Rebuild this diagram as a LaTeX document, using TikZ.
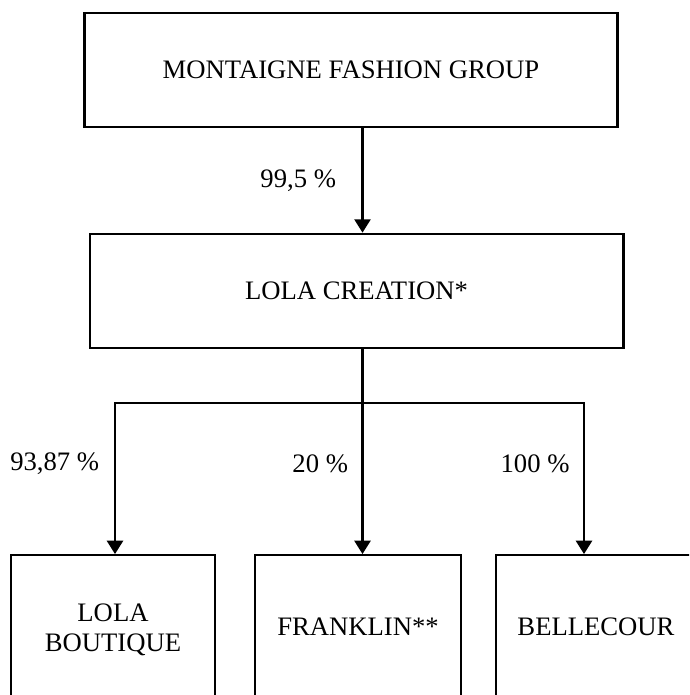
\documentclass[tikz,border=0pt]{standalone}
\usepackage{fontspec}
\setmainfont{Liberation Serif}
\usetikzlibrary{arrows.meta,positioning}

\begin{document}
\begin{tikzpicture}[
  x=0.75pt, y=-0.75pt,
  >={Triangle[length=10pt,width=12pt]},
  every node/.style={font=\fontsize{20}{22.5}\selectfont},
  orgbox/.style={rectangle, draw=black, line width=2pt, minimum width=400pt, minimum height=85.5pt},
  leafbox/.style={rectangle, draw=black, line width=1.4pt, minimum height=108pt, align=center},
  share/.style={->, draw=black, line width=1.8pt},
  pct/.style={inner sep=0pt}
]
  \useasboundingbox (0,0) rectangle (689,695);
  \clip (0,0) rectangle (689,695);

  \node[orgbox] (mont) at (351,70) {MONTAIGNE FASHION GROUP};
  \node[orgbox] (lola) at (356.5,291) {LOLA CREATION*};

  \node[leafbox, minimum width=153pt, minimum height=112.5pt] (boutique) at (113,630) {LOLA\\BOUTIQUE};
  \node[leafbox, minimum width=154.5pt] (franklin) at (358,627) {FRANKLIN**};
  \node[leafbox, minimum width=150pt] (bellecour) at (596,627) {BELLECOUR};

  \coordinate (split) at (362.5,403);

  % holding -> creation
  \draw[share] (mont.south -| split) -- node[pct, left=19pt] {99,5 \%} (lola.north -| split);

  % creation -> subsidiaries
  \draw[line width=1.8pt] (lola.south -| split) -- (split);
  \draw[share] (split) -| node[pct, pos=.7, left=11pt] {93,87 \%} (boutique.north -| 115,0);
  \draw[share] (split) -- node[pct, pos=.4, left=10pt] {20 \%} (franklin.north -| split);
  \draw[share] (split) -| node[pct, pos=.7, left=10pt] {100 \%} (bellecour.north -| 584,0);
\end{tikzpicture}
\end{document}
